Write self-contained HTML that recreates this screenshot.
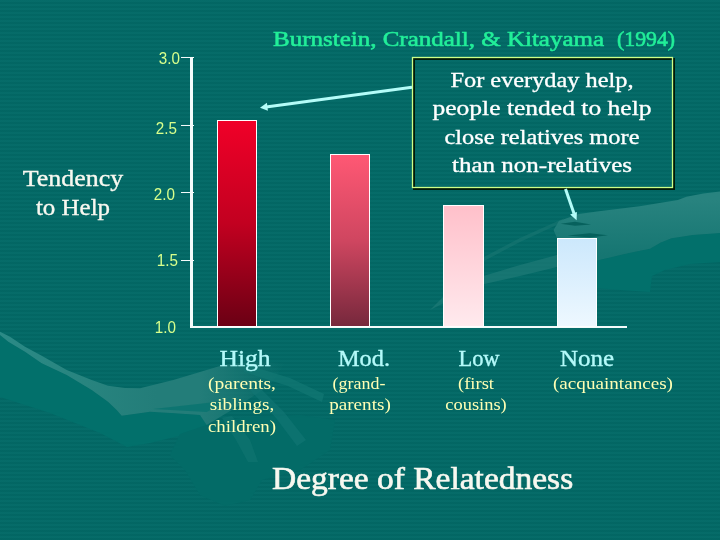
<!DOCTYPE html>
<html><head><meta charset="utf-8">
<style>
html,body{margin:0;padding:0;}
body{width:720px;height:540px;overflow:hidden;position:relative;
background-color:#036a67;
background-image:repeating-linear-gradient(180deg,#046966 0px,#076e6b 1px,#046966 2px,#016461 3px,#046966 4px);
font-family:"Liberation Serif",serif;}
.a{position:absolute;}
.t{position:absolute;white-space:nowrap;}
</style></head><body>
<svg class="a" style="left:0;top:0" width="720" height="540" viewBox="0 0 720 540">
  <!-- background swirls -->
  <defs>
    <linearGradient id="rg" gradientUnits="userSpaceOnUse" x1="0" y1="200" x2="0" y2="255"><stop offset="0" stop-color="#28837f"/><stop offset="1" stop-color="#167672"/></linearGradient>
    <linearGradient id="fadeR" x1="0" y1="0" x2="1" y2="0"><stop offset="0" stop-color="#2b8a86"/><stop offset="0.3" stop-color="#28847f"/><stop offset="0.55" stop-color="#237d79"/><stop offset="0.70" stop-color="#237d79"/><stop offset="1" stop-color="#237d79" stop-opacity="0"/></linearGradient>
    <linearGradient id="fadeL" x1="0" y1="0" x2="1" y2="0"><stop offset="0" stop-color="#237d79" stop-opacity="0"/><stop offset="0.35" stop-color="#237d79" stop-opacity="0.8"/><stop offset="1" stop-color="#237d79"/></linearGradient>
  </defs>
  <path d="M0 335 L8 341.7 L25 351.7 L41.7 363.3 L66.7 375 L91.7 390 L108 401.7 L116.7 410 L121.7 415.8 L150 411.7 L175 413.3 L200 415 L206.7 423.3 L225 428 L200 433 L183 435 L150 443 L127 447 L100 433 L50 413 L0 397 Z" fill="#02706b"/>
  <path d="M0 331.7 L10 336.7 L25 346.7 L41.7 355.8 L66.7 370 L91.7 380 L108 385.8 L125 388 L140 388.3 L173.3 380 L206.7 370 L223.3 365 L250 362 L285 363 L270 385 L240 405 L206.7 425 L200 415 L175 413.3 L150 411.7 L121.7 415.8 L116.7 410 L108 401.7 L91.7 390 L66.7 375 L41.7 363.3 L25 351.7 L8.3 341.7 L0 335 Z" fill="url(#fadeR)"/>
  <path d="M153 409 L206.7 403 L230 400 L206.7 412 Z" fill="#0b7470" opacity="0.9"/>
  <path d="M180 434 L206.7 425 L240 418 L300 415 L335 420 L330 450 L300 470 L262 480 L250 500 L225 506 L200 495 L185 470 L170 455 Z" fill="#036b67"/>
  <path d="M244 364 L290 378 L324 394 L322 402 L288 386 L244 372 Z" fill="#137774" opacity="0.7"/>
  <path d="M250 390 L262 390 L284 412 L306 440 L297 446 L276 418 Z" fill="#137774" opacity="0.6"/>
  <path d="M222 418 L232 416 L250 440 L258 462 L248 462 L236 440 Z" fill="#137774" opacity="0.5"/>
  <!-- right swirl -->
  <path d="M557 262 L597 260.5 L629 253 L650 248.8 L660.8 242.4 L671.5 238.2 L692.7 235 L720 232.9 L720 262 L690 264 L665 270 L652 276 L650 292 L620 290 L597 288 L557 290 Z" fill="#02706b"/>
  <path d="M559 221 L578.6 213.9 L597 211.6 L639.6 206.3 L677.9 199.9 L686.4 196.7 L703.4 193.5 L720 191.4 L720 232.9 L692.7 235 L671.5 238.2 L660.8 242.4 L650 248.8 L629 253 L597 260.5 L557 262 L557 238 L553.6 230 Z" fill="url(#rg)"/>
  <path d="M564.7 218 L559 224 L520 242 L484 261 L470 268 L484 257 L520 238 Z" fill="#237d79" opacity="0.4"/>
  <path d="M557 255 L557 267 L520 276 L480 285 L430 310 L450 290 L480 277 L520 265 Z" fill="#237d79" opacity="0.6"/>
  <path d="M560.5 223.8 L575 221.8 L591 224.6 L575 225.8 Z" fill="#045e5a" opacity="0.9"/>
  <path d="M567.5 235.6 L590 233.3 L607.8 235.2 L590 237.6 Z" fill="#045e5a" opacity="0.9"/>
  <!-- axes -->
  <rect x="190" y="57" width="3" height="271" fill="#f4fbfb"/>
  <rect x="190" y="326" width="437" height="2" fill="#f4fbfb"/>
  <rect x="181" y="57" width="13" height="1" fill="#f4fbfb"/>
  <rect x="181" y="125" width="13" height="1" fill="#f4fbfb"/>
  <rect x="181" y="192" width="13" height="1" fill="#f4fbfb"/>
  <rect x="181" y="260" width="13" height="1" fill="#f4fbfb"/>
  <defs>
    <linearGradient id="g1" x1="0" y1="0" x2="0" y2="1"><stop offset="0" stop-color="#f00028"/><stop offset="0.5" stop-color="#c20020"/><stop offset="1" stop-color="#6a0014"/></linearGradient>
    <linearGradient id="g2" x1="0" y1="0" x2="0" y2="1"><stop offset="0" stop-color="#ff5874"/><stop offset="0.5" stop-color="#cf4660"/><stop offset="1" stop-color="#76283c"/></linearGradient>
    <linearGradient id="g3" x1="0" y1="0" x2="0" y2="1"><stop offset="0" stop-color="#ffc0ca"/><stop offset="1" stop-color="#ffeaee"/></linearGradient>
    <linearGradient id="g4" x1="0" y1="0" x2="0" y2="1"><stop offset="0" stop-color="#cce8fc"/><stop offset="1" stop-color="#eef8ff"/></linearGradient>
  </defs>
  <rect x="217.5" y="120.5" width="39" height="206" fill="url(#g1)" stroke="#fff" stroke-width="1"/>
  <rect x="330.5" y="154.5" width="39" height="172" fill="url(#g2)" stroke="#fff" stroke-width="1"/>
  <rect x="443.5" y="205.5" width="40" height="121" fill="url(#g3)" stroke="#fff" stroke-width="1"/>
  <rect x="557.5" y="238.5" width="39" height="88" fill="url(#g4)" stroke="#fff" stroke-width="1"/>
  <!-- text box -->
  <rect x="414" y="59" width="260" height="130" fill="none" stroke="#001a08" stroke-width="2"/>
  <rect x="412.5" y="57.5" width="260" height="130" fill="none" stroke="#ccff88" stroke-width="1.3"/>
  <!-- arrows -->
  <line x1="412" y1="87.3" x2="266" y2="106.9" stroke="#b4fcf8" stroke-width="3"/>
  <polygon points="260,107.8 266.9,102.8 267.9,110.8" fill="#b4fcf8"/>
  <line x1="565.5" y1="189" x2="574" y2="213.5" stroke="#b4fcf8" stroke-width="3"/>
  <polygon points="576.6,220.2 570.1,214.4 576.9,212" fill="#b4fcf8"/>
</svg>

<div class="t" style="left:273.00px;top:28.00px;width:400px;text-align:left;font-family:'Liberation Serif', serif;font-size:22px;line-height:22px;-webkit-text-stroke:0.6px #22ee99;color:#22ee99;transform:scaleX(1.136);transform-origin:0 0;">Burnstein, Crandall, &amp; Kitayama</div>
<div class="t" style="left:617.20px;top:28.00px;width:400px;text-align:left;font-family:'Liberation Serif', serif;font-size:22px;line-height:22px;-webkit-text-stroke:0.6px #22ee99;color:#22ee99;transform:scaleX(0.99);transform-origin:0 0;">(1994)</div>
<div class="t" style="left:342.00px;top:69.00px;width:400px;text-align:center;font-family:'Liberation Serif', serif;font-size:22px;line-height:22px;-webkit-text-stroke:0.35px #ffffff;color:#ffffff;transform:scaleX(1.105);transform-origin:50% 0;">For everyday help,</div>
<div class="t" style="left:342.00px;top:97.00px;width:400px;text-align:center;font-family:'Liberation Serif', serif;font-size:22px;line-height:22px;-webkit-text-stroke:0.35px #ffffff;color:#ffffff;transform:scaleX(1.16);transform-origin:50% 0;">people tended to help</div>
<div class="t" style="left:342.00px;top:126.00px;width:400px;text-align:center;font-family:'Liberation Serif', serif;font-size:22px;line-height:22px;-webkit-text-stroke:0.35px #ffffff;color:#ffffff;transform:scaleX(1.108);transform-origin:50% 0;">close relatives more</div>
<div class="t" style="left:342.00px;top:154.00px;width:400px;text-align:center;font-family:'Liberation Serif', serif;font-size:22px;line-height:22px;-webkit-text-stroke:0.35px #ffffff;color:#ffffff;transform:scaleX(1.138);transform-origin:50% 0;">than non-relatives</div>
<div class="t" style="left:-127.40px;top:168.00px;width:400px;text-align:center;font-family:'Liberation Serif', serif;font-size:22.7px;line-height:22.7px;-webkit-text-stroke:0.35px #f8f8f0;color:#f8f8f0;transform:scaleX(1.142);transform-origin:50% 0;">Tendency</div>
<div class="t" style="left:-127.00px;top:197.00px;width:400px;text-align:center;font-family:'Liberation Serif', serif;font-size:22.7px;line-height:22.7px;-webkit-text-stroke:0.35px #f8f8f0;color:#f8f8f0;transform:scaleX(1.1);transform-origin:50% 0;">to Help</div>
<div class="t" style="left:-220.20px;top:51.00px;width:400px;text-align:right;font-family:'Liberation Sans', sans-serif;font-size:16px;line-height:16px;color:#d8ff8c;transform:scaleX(0.95);transform-origin:100% 0;">3.0</div>
<div class="t" style="left:-223.15px;top:121.00px;width:400px;text-align:right;font-family:'Liberation Sans', sans-serif;font-size:16px;line-height:16px;color:#d8ff8c;transform:scaleX(0.95);transform-origin:100% 0;">2.5</div>
<div class="t" style="left:-225.20px;top:187.00px;width:400px;text-align:right;font-family:'Liberation Sans', sans-serif;font-size:16px;line-height:16px;color:#d8ff8c;transform:scaleX(0.95);transform-origin:100% 0;">2.0</div>
<div class="t" style="left:-222.40px;top:253.00px;width:400px;text-align:right;font-family:'Liberation Sans', sans-serif;font-size:16px;line-height:16px;color:#d8ff8c;transform:scaleX(0.95);transform-origin:100% 0;">1.5</div>
<div class="t" style="left:-224.00px;top:320.00px;width:400px;text-align:right;font-family:'Liberation Sans', sans-serif;font-size:16px;line-height:16px;color:#d8ff8c;transform:scaleX(0.95);transform-origin:100% 0;">1.0</div>
<div class="t" style="left:44.80px;top:348.00px;width:400px;text-align:center;font-family:'Liberation Serif', serif;font-size:22.7px;line-height:22.7px;-webkit-text-stroke:0.35px #b4fafa;color:#b4fafa;transform:scaleX(1.128);transform-origin:50% 0;">High</div>
<div class="t" style="left:163.65px;top:348.00px;width:400px;text-align:center;font-family:'Liberation Serif', serif;font-size:22.7px;line-height:22.7px;-webkit-text-stroke:0.35px #b4fafa;color:#b4fafa;transform:scaleX(1.07);transform-origin:50% 0;">Mod.</div>
<div class="t" style="left:278.75px;top:348.00px;width:400px;text-align:center;font-family:'Liberation Serif', serif;font-size:22.7px;line-height:22.7px;-webkit-text-stroke:0.35px #b4fafa;color:#b4fafa;transform:scaleX(0.99);transform-origin:50% 0;">Low</div>
<div class="t" style="left:387.00px;top:348.00px;width:400px;text-align:center;font-family:'Liberation Serif', serif;font-size:22.7px;line-height:22.7px;-webkit-text-stroke:0.35px #b4fafa;color:#b4fafa;transform:scaleX(1.1);transform-origin:50% 0;">None</div>
<div class="t" style="left:42.40px;top:375.00px;width:400px;text-align:center;font-family:'Liberation Serif', serif;font-size:17px;line-height:17px;color:#ffffb4;transform:scaleX(1.149);transform-origin:50% 0;">(parents,</div>
<div class="t" style="left:42.40px;top:396.00px;width:400px;text-align:center;font-family:'Liberation Serif', serif;font-size:17px;line-height:17px;color:#ffffb4;transform:scaleX(1.128);transform-origin:50% 0;">siblings,</div>
<div class="t" style="left:41.60px;top:418.00px;width:400px;text-align:center;font-family:'Liberation Serif', serif;font-size:17px;line-height:17px;color:#ffffb4;transform:scaleX(1.108);transform-origin:50% 0;">children)</div>
<div class="t" style="left:158.50px;top:375.00px;width:400px;text-align:center;font-family:'Liberation Serif', serif;font-size:17px;line-height:17px;color:#ffffb4;transform:scaleX(1.056);transform-origin:50% 0;">(grand-</div>
<div class="t" style="left:159.80px;top:396.00px;width:400px;text-align:center;font-family:'Liberation Serif', serif;font-size:17px;line-height:17px;color:#ffffb4;transform:scaleX(1.125);transform-origin:50% 0;">parents)</div>
<div class="t" style="left:276.00px;top:375.00px;width:400px;text-align:center;font-family:'Liberation Serif', serif;font-size:17px;line-height:17px;color:#ffffb4;transform:scaleX(1.087);transform-origin:50% 0;">(first</div>
<div class="t" style="left:275.75px;top:396.00px;width:400px;text-align:center;font-family:'Liberation Serif', serif;font-size:17px;line-height:17px;color:#ffffb4;transform:scaleX(1.085);transform-origin:50% 0;">cousins)</div>
<div class="t" style="left:412.65px;top:375.00px;width:400px;text-align:center;font-family:'Liberation Serif', serif;font-size:17px;line-height:17px;color:#ffffb4;transform:scaleX(1.125);transform-origin:50% 0;">(acquaintances)</div>
<div class="t" style="left:272.20px;top:464.00px;width:400px;text-align:left;font-family:'Liberation Serif', serif;font-size:30.8px;line-height:30.8px;-webkit-text-stroke:0.6px #f8f8f0;color:#f8f8f0;transform:scaleX(1.087);transform-origin:0 0;">Degree of Relatedness</div>
</body></html>
